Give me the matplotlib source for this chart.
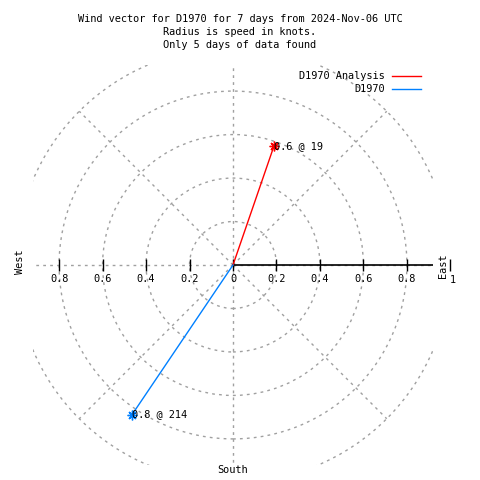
import numpy as np
import matplotlib
matplotlib.use("Agg")
import matplotlib.pyplot as plt
from matplotlib.patches import Circle

# Datos del grafico
nombres = ["D1970 Analysis", "D1970"]
velocidades = [0.58, 0.83]      # nudos
direcciones = [19, 214]         # grados (rumbo)
colores = ["#ff0000", "#0080ff"]
radios_grid = [0.2, 0.4, 0.6, 0.8, 1.0]
ticks_r = [0.2, 0.4, 0.6, 0.8]
titulo = ("Wind vector for D1970 for 7 days from 2024-Nov-06 UTC\n"
          "Radius is speed in knots.\n"
          "Only 5 days of data found")

plt.rcParams["font.family"] = "DejaVu Sans Mono"
FS = 7.4
GRIS = "#a0a0a0"

fig = plt.figure(figsize=(4.8, 4.8), dpi=100)
ax = fig.add_axes([33 / 480, 15 / 480, 400 / 480, 400 / 480])
ax.set_xlim(-0.92, 0.92)
ax.set_ylim(-0.92, 0.92)
ax.set_aspect("equal")
ax.axis("off")

estilo_grid = dict(color=GRIS, lw=1, dashes=(2, 3))

# Circulos de la rejilla polar
for r in radios_grid:
    ax.add_patch(Circle((0, 0), r, fill=False, ec=GRIS, lw=1,
                        linestyle=(0, (2, 3))))

# Lineas radiales cada 45 grados
for ang in range(0, 360, 45):
    a = np.deg2rad(ang)
    ax.plot([0, np.cos(a)], [0, np.sin(a)], **estilo_grid)

# Eje r (lado este) en negro
ax.plot([0, 0.92], [0, 0], color="black", lw=1.2)
ticks_x = [-t for t in ticks_r] + [0] + ticks_r
ax.plot(ticks_x, [0] * len(ticks_x), ls="none", marker="|", ms=9,
        color="black", mew=1)
ax.plot([1.0], [0], ls="none", marker="|", ms=9, color="black", mew=1,
        clip_on=False)

# Etiquetas de los ticks
for t in ticks_x:
    ax.annotate(f"{abs(t):g}", (t, 0), xytext=(0, -14),
                textcoords="offset pixels", ha="center", va="center",
                fontsize=FS)
ax.annotate("1", (1.0, 0), xytext=(2, -15), textcoords="offset pixels",
            ha="center", va="center", fontsize=FS, annotation_clip=False)

# Puntos cardinales
fig.text(20 / 480, 1 - 262 / 480, "West", rotation=90, ha="center",
         va="center", fontsize=FS)
fig.text(443 / 480, 1 - 266 / 480, "East", rotation=90, ha="center",
         va="center", fontsize=FS)
fig.text(233 / 480, 1 - 470 / 480, "South", ha="center", va="center",
         fontsize=FS)

# Vectores de viento
for nom, v, d, c in zip(nombres, velocidades, direcciones, colores):
    a = np.deg2rad(d)
    x, y = v * np.sin(a), v * np.cos(a)
    ax.plot([0, x], [0, y], color=c, lw=1, label=nom)
    ax.plot([x], [y], ls="none", marker=(8, 2, 0), ms=7, mew=1, color=c)
    ax.annotate(f"{v:.1f} @ {d}", (x, y), xytext=(0, 0),
                textcoords="offset pixels", ha="left", va="center", fontsize=FS)

# Leyenda manual
for i, (nom, c) in enumerate(zip(nombres, colores)):
    yy = 1 - (76 + 13 * i) / 480
    fig.text(385 / 480, yy, nom, ha="right", va="center", fontsize=FS)
    fig.add_artist(plt.Line2D([392 / 480, 421 / 480], [yy, yy], color=c, lw=1))

fig.text(240 / 480, 1 - 14 / 480, titulo, ha="center", va="top",
         fontsize=FS, linespacing=1.38)

fig.savefig("out.png", dpi=100)
